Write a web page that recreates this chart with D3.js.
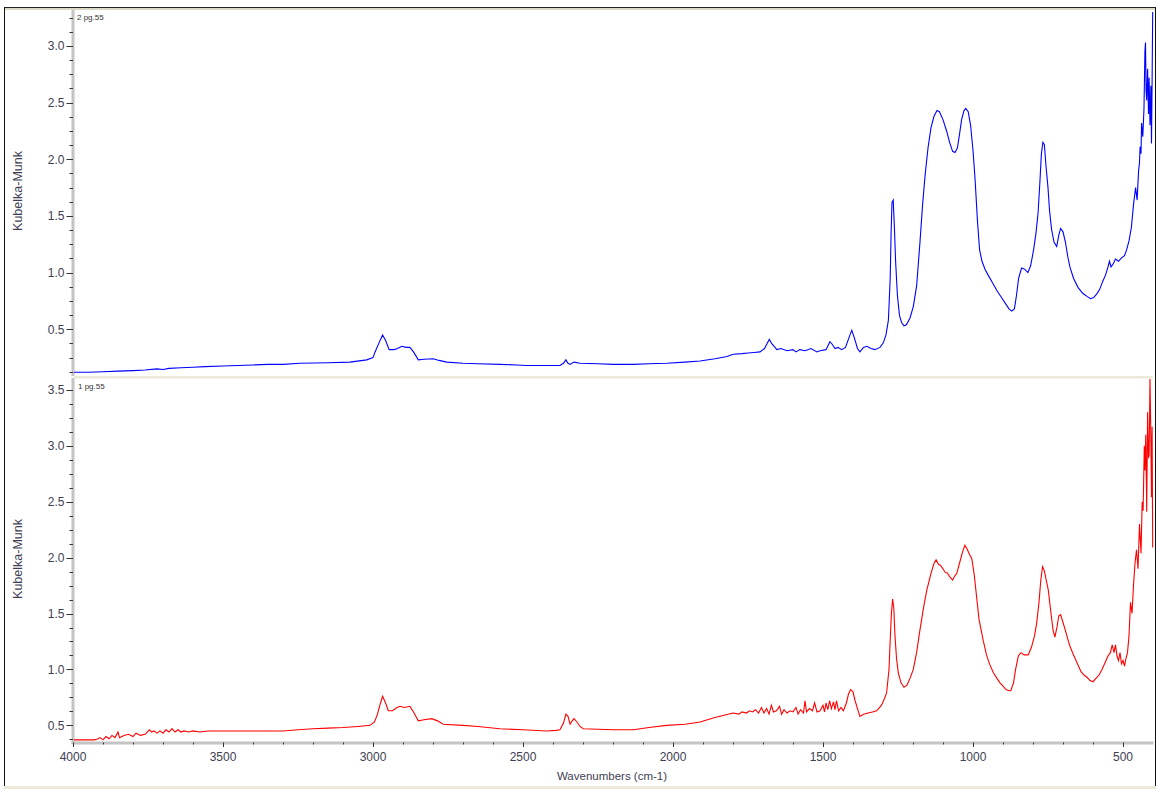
<!DOCTYPE html>
<html><head><meta charset="utf-8">
<script src="https://cdn.jsdelivr.net/npm/d3@7"></script>
<style>
html,body{margin:0;padding:0;background:#fff;}
svg{display:block;font-family:"Liberation Sans",Arial,sans-serif;}
</style></head>
<body>
<svg id="chart" width="1156" height="789"></svg>
<script>
// ---------- data ----------
const xMajorTicks = [4000, 3500, 3000, 2500, 2000, 1500, 1000, 500];
const topYTicks = [0.5, 1.0, 1.5, 2.0, 2.5, 3.0];
const bottomYTicks = [0.5, 1.0, 1.5, 2.0, 2.5, 3.0, 3.5];
const xTitle = "Wavenumbers (cm-1)";
const yTitle = "Kubelka-Munk";
const topLabel = "2 pg.55";
const bottomLabel = "1 pg.55";

// spectrum 2 (top, blue): [wavenumber, Kubelka-Munk]
const spectrum2 = [
[4000,0.12],[3950,0.12],[3900,0.125],[3850,0.13],[3800,0.135],[3760,0.14],[3720,0.15],[3700,0.145],[3680,0.155],[3640,0.16],[3600,0.165],[3560,0.17],[3500,0.175],[3450,0.18],[3400,0.185],[3350,0.19],[3300,0.19],[3243,0.20],[3150,0.205],[3077,0.21],[3021,0.23],[3000,0.25],[2993,0.30],[2980,0.38],[2968,0.45],[2958,0.40],[2946,0.32],[2930,0.32],[2918,0.33],[2904,0.35],[2890,0.34],[2877,0.34],[2865,0.30],[2849,0.23],[2830,0.235],[2799,0.24],[2780,0.225],[2754,0.21],[2700,0.20],[2650,0.195],[2577,0.19],[2520,0.185],[2488,0.18],[2420,0.18],[2377,0.18],[2365,0.20],[2357,0.23],[2350,0.20],[2343,0.19],[2330,0.21],[2310,0.20],[2250,0.195],[2200,0.19],[2132,0.19],[2080,0.195],[2021,0.20],[1960,0.21],[1910,0.22],[1860,0.24],[1820,0.26],[1799,0.28],[1770,0.285],[1750,0.29],[1730,0.295],[1710,0.30],[1695,0.33],[1685,0.38],[1679,0.41],[1670,0.37],[1660,0.34],[1654,0.32],[1640,0.33],[1620,0.31],[1600,0.32],[1590,0.30],[1577,0.32],[1560,0.31],[1540,0.33],[1520,0.30],[1510,0.31],[1490,0.32],[1477,0.39],[1470,0.37],[1460,0.33],[1450,0.34],[1438,0.32],[1425,0.34],[1410,0.45],[1404,0.49],[1395,0.42],[1385,0.33],[1377,0.30],[1365,0.34],[1354,0.35],[1340,0.33],[1327,0.32],[1310,0.34],[1299,0.38],[1290,0.45],[1282,0.58],[1276,0.95],[1273,1.35],[1270,1.62],[1266,1.64],[1262,1.40],[1258,1.10],[1252,0.80],[1245,0.62],[1238,0.56],[1230,0.53],[1222,0.54],[1210,0.60],[1199,0.70],[1188,0.88],[1177,1.26],[1168,1.60],[1160,1.85],[1150,2.10],[1140,2.28],[1130,2.38],[1120,2.43],[1112,2.42],[1100,2.35],[1088,2.25],[1078,2.15],[1068,2.07],[1060,2.06],[1052,2.10],[1045,2.22],[1038,2.35],[1030,2.43],[1024,2.45],[1016,2.42],[1008,2.30],[1000,2.08],[993,1.82],[985,1.45],[978,1.20],[970,1.10],[960,1.03],[950,0.98],[935,0.91],[920,0.84],[905,0.78],[890,0.72],[880,0.68],[871,0.66],[862,0.68],[855,0.80],[848,0.95],[838,1.04],[828,1.03],[817,1.00],[808,1.06],[798,1.20],[790,1.35],[783,1.53],[777,1.80],[772,2.05],[767,2.15],[762,2.13],[757,1.95],[750,1.75],[745,1.55],[738,1.38],[730,1.27],[721,1.23],[714,1.33],[708,1.39],[700,1.36],[692,1.27],[684,1.14],[677,1.05],[665,0.95],[650,0.87],[635,0.82],[620,0.79],[608,0.77],[598,0.78],[588,0.81],[578,0.85],[568,0.92],[558,0.98],[550,1.05],[545,1.10],[540,1.05],[532,1.08],[525,1.12],[515,1.10],[505,1.13],[495,1.15],[488,1.20],[480,1.28],[472,1.40],[465,1.60],[458,1.75],[453,1.64],[448,1.90],[445,1.97],[443,2.11],[440,2.05],[438,2.32],[434,2.20],[430,2.45],[427,2.95],[425,3.03],[423,2.60],[421,2.52],[418,2.80],[415,2.40],[413,2.72],[410,2.30],[407,2.65],[405,2.14],[403,2.68],[401,3.30]
];

// spectrum 1 (bottom, red): [wavenumber, Kubelka-Munk]
const spectrum1 = [
[4000,0.37],[3960,0.37],[3930,0.37],[3920,0.375],[3910,0.39],[3900,0.37],[3890,0.40],[3880,0.38],[3870,0.41],[3860,0.39],[3850,0.44],[3845,0.39],[3830,0.41],[3815,0.42],[3800,0.40],[3790,0.43],[3775,0.41],[3760,0.42],[3745,0.46],[3738,0.44],[3730,0.45],[3720,0.43],[3710,0.45],[3700,0.43],[3690,0.46],[3680,0.44],[3670,0.47],[3660,0.44],[3650,0.46],[3640,0.44],[3630,0.45],[3615,0.44],[3600,0.45],[3577,0.44],[3550,0.45],[3500,0.45],[3450,0.45],[3400,0.45],[3350,0.45],[3300,0.45],[3250,0.46],[3200,0.47],[3150,0.475],[3100,0.48],[3050,0.49],[3010,0.50],[2995,0.53],[2985,0.60],[2975,0.70],[2968,0.76],[2958,0.70],[2949,0.63],[2935,0.63],[2920,0.66],[2910,0.67],[2895,0.66],[2877,0.67],[2865,0.62],[2849,0.54],[2830,0.55],[2804,0.56],[2785,0.54],[2766,0.51],[2700,0.50],[2650,0.49],[2577,0.47],[2500,0.46],[2421,0.45],[2390,0.455],[2377,0.46],[2365,0.52],[2357,0.60],[2350,0.58],[2343,0.51],[2336,0.54],[2330,0.56],[2320,0.53],[2310,0.49],[2299,0.47],[2250,0.465],[2200,0.46],[2132,0.46],[2080,0.48],[2021,0.50],[1960,0.51],[1910,0.53],[1860,0.57],[1830,0.59],[1800,0.61],[1780,0.60],[1770,0.62],[1755,0.61],[1745,0.63],[1735,0.62],[1725,0.64],[1715,0.61],[1705,0.66],[1697,0.61],[1688,0.65],[1680,0.60],[1672,0.68],[1665,0.62],[1655,0.63],[1645,0.67],[1638,0.60],[1630,0.64],[1620,0.61],[1610,0.63],[1600,0.62],[1590,0.66],[1583,0.60],[1575,0.64],[1565,0.61],[1560,0.72],[1555,0.62],[1545,0.65],[1535,0.63],[1528,0.70],[1520,0.62],[1510,0.63],[1500,0.68],[1495,0.62],[1490,0.70],[1484,0.64],[1478,0.72],[1472,0.65],[1465,0.71],[1460,0.64],[1455,0.72],[1448,0.63],[1440,0.66],[1432,0.63],[1422,0.70],[1415,0.78],[1408,0.82],[1400,0.80],[1393,0.72],[1385,0.65],[1377,0.58],[1365,0.60],[1350,0.61],[1335,0.62],[1321,0.63],[1305,0.68],[1295,0.74],[1288,0.79],[1280,1.00],[1276,1.26],[1272,1.50],[1268,1.63],[1264,1.55],[1260,1.30],[1255,1.10],[1249,0.97],[1240,0.88],[1230,0.84],[1220,0.86],[1210,0.92],[1199,1.00],[1188,1.15],[1177,1.35],[1165,1.55],[1154,1.71],[1140,1.86],[1130,1.95],[1123,1.98],[1115,1.94],[1108,1.93],[1100,1.90],[1093,1.87],[1085,1.86],[1078,1.83],[1068,1.80],[1060,1.84],[1054,1.86],[1045,1.95],[1035,2.05],[1027,2.11],[1020,2.08],[1012,2.03],[1004,1.99],[996,1.85],[988,1.65],[980,1.45],[966,1.26],[955,1.13],[945,1.05],[932,0.97],[920,0.92],[910,0.88],[900,0.85],[890,0.82],[880,0.81],[874,0.81],[865,0.88],[858,1.00],[849,1.12],[840,1.15],[830,1.13],[816,1.13],[805,1.20],[795,1.30],[788,1.41],[780,1.60],[774,1.80],[768,1.92],[762,1.88],[756,1.80],[749,1.71],[740,1.50],[733,1.35],[727,1.29],[720,1.38],[714,1.48],[708,1.49],[700,1.42],[692,1.35],[685,1.28],[677,1.21],[668,1.15],[660,1.10],[650,1.04],[640,0.98],[630,0.95],[620,0.93],[610,0.90],[600,0.89],[590,0.92],[580,0.95],[570,1.00],[560,1.06],[550,1.12],[542,1.15],[536,1.22],[530,1.15],[525,1.22],[520,1.12],[515,1.08],[510,1.15],[505,1.05],[500,1.08],[495,1.03],[490,1.10],[485,1.15],[480,1.30],[475,1.60],[470,1.50],[465,1.75],[460,1.95],[455,2.07],[450,1.90],[445,2.30],[440,2.04],[436,2.50],[433,2.42],[429,3.00],[427,2.78],[424,3.10],[421,2.41],[418,3.30],[415,2.90],[413,2.91],[410,3.60],[407,3.05],[405,2.54],[403,3.17],[401,2.09]
];

// ---------- layout ----------
const svg = d3.select("#chart");
const X0 = 73, X1 = 1153;
const top0 = 8, top1 = 376, bot0 = 378, bot1 = 743;

const x = d3.scaleLinear().domain([4000, 400]).range([X0, X1]);
const yTop = d3.scaleLinear().domain([0.0874, 3.3354]).range([top1, top0]);
const yBot = d3.scaleLinear().domain([0.342, 3.607]).range([bot1, bot0]);

const textColor = "#3e3e52";

// frame
svg.append("rect").attr("x",0).attr("y",0).attr("width",1156).attr("height",789).attr("fill","#fff");
svg.append("line").attr("x1",4).attr("x2",1156).attr("y1",7.5).attr("y2",7.5).attr("stroke","#222").attr("stroke-width",1);
svg.append("rect").attr("x",5).attr("y",8).attr("width",1150).attr("height",2).attr("fill","#ddd9c8");
svg.append("line").attr("x1",4.5).attr("x2",4.5).attr("y1",7).attr("y2",787).attr("stroke","#111").attr("stroke-width",1);
svg.append("line").attr("x1",1155.5).attr("x2",1155.5).attr("y1",7).attr("y2",787).attr("stroke","#111").attr("stroke-width",1);
svg.append("rect").attr("x",4).attr("y",786).attr("width",1152).attr("height",3).attr("fill","#ece9d8");
// divider between panels
svg.append("rect").attr("x",X0+1).attr("y",376).attr("width",X1-X0-1).attr("height",2.5).attr("fill","#ece9d8");

// clip paths
const defs = svg.append("defs");
defs.append("clipPath").attr("id","clipTop").append("rect").attr("x",X0+1).attr("y",top0+2).attr("width",X1-X0+2).attr("height",top1-top0-2);
defs.append("clipPath").attr("id","clipBot").append("rect").attr("x",X0+1).attr("y",bot0+1).attr("width",X1-X0+2).attr("height",bot1-bot0-2);

function yAxis(yScale, ticks, yA, yB, dom) {
  const g = svg.append("g");
  g.append("rect").attr("x",X0-1.5).attr("y",yA).attr("width",3).attr("height",yB-yA).attr("fill","#c4c4c4");
  const minor = d3.range(Math.ceil(dom[0]/0.125)*0.125, dom[1], 0.125);
  g.selectAll("line.mn").data(minor).enter().append("line")
    .attr("x1",X0-3.5).attr("x2",X0).attr("y1",d=>Math.round(yScale(d))+0.5).attr("y2",d=>Math.round(yScale(d))+0.5)
    .attr("stroke","#333").attr("stroke-width",1);
  g.selectAll("line.mj").data(ticks).enter().append("line")
    .attr("x1",X0-6.5).attr("x2",X0).attr("y1",d=>Math.round(yScale(d))+0.5).attr("y2",d=>Math.round(yScale(d))+0.5)
    .attr("stroke","#333").attr("stroke-width",1);
  g.selectAll("text").data(ticks).enter().append("text")
    .attr("x",X0-8.5).attr("y",d=>yScale(d)).attr("dy","0.36em")
    .attr("text-anchor","end").attr("font-size",12).attr("fill",textColor)
    .text(d=>d3.format(".1f")(d));
}
yAxis(yTop, topYTicks, top0+2, top1, yTop.domain());
yAxis(yBot, bottomYTicks, bot0, bot1+1, yBot.domain());

// x axis
const gx = svg.append("g");
gx.append("rect").attr("x",X0-1.5).attr("y",bot1-1.5).attr("width",X1-X0+2).attr("height",3).attr("fill","#c4c4c4");
const xMinor = d3.range(500, 4000, 100).filter(v=>v%500!==0);
gx.selectAll("line.mn").data(xMinor).enter().append("line")
  .attr("x1",d=>Math.round(x(d))+0.5).attr("x2",d=>Math.round(x(d))+0.5).attr("y1",bot1-0.5).attr("y2",bot1+1.5)
  .attr("stroke","#333");
gx.selectAll("line.mj").data(xMajorTicks).enter().append("line")
  .attr("x1",d=>Math.round(x(d))+0.5).attr("x2",d=>Math.round(x(d))+0.5).attr("y1",bot1-0.5).attr("y2",bot1+4)
  .attr("stroke","#333");
gx.selectAll("text").data(xMajorTicks).enter().append("text")
  .attr("x",d=>x(d)).attr("y",bot1+18)
  .attr("text-anchor","middle").attr("font-size",12).attr("fill",textColor)
  .text(d=>d);

// titles
svg.append("text").attr("x",612).attr("y",780).attr("text-anchor","middle").attr("font-size",11.5).attr("fill",textColor).text(xTitle);
svg.append("text").attr("transform","translate(22,191) rotate(-90)").attr("text-anchor","middle").attr("font-size",12.5).attr("fill",textColor).text(yTitle);
svg.append("text").attr("transform","translate(22,559) rotate(-90)").attr("text-anchor","middle").attr("font-size",12.5).attr("fill",textColor).text(yTitle);
svg.append("text").attr("x",77).attr("y",20).attr("font-size",8).attr("fill","#333").text(topLabel);
svg.append("text").attr("x",78).attr("y",389).attr("font-size",8).attr("fill","#333").text(bottomLabel);

// spectra
const lineTop = d3.line().x(d=>x(d[0])).y(d=>yTop(d[1]));
const lineBot = d3.line().x(d=>x(d[0])).y(d=>yBot(d[1]));
svg.append("path").datum(spectrum2).attr("clip-path","url(#clipTop)")
  .attr("d",lineTop).attr("fill","none").attr("stroke","#0000ff").attr("stroke-width",1.1);
svg.append("path").datum(spectrum1).attr("clip-path","url(#clipBot)")
  .attr("d",lineBot).attr("fill","none").attr("stroke","#ff0000").attr("stroke-width",1.1);
</script>
</body></html>
